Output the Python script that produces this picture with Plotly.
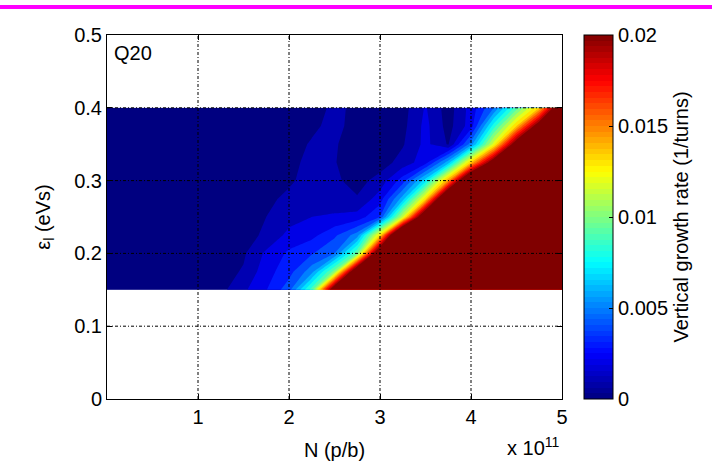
import numpy as np
import plotly.graph_objects as go

# ---------------- data ----------------
# bunch intensity N (units of 1e11 p/b)
N_BUNCH = [0.0, 0.25, 0.5, 0.75, 1.0, 1.25, 1.5, 1.75, 2.0, 2.25, 2.5,
           2.75, 3.0, 3.25, 3.5, 3.75, 4.0, 4.25, 4.5, 4.75, 5.0]
# longitudinal emittance (eVs)
EPS_L = [0.15, 0.175, 0.2, 0.225, 0.25, 0.275, 0.3, 0.325, 0.35, 0.375, 0.4]
# vertical growth rate, in units of 1e-3 /turn  (one row per emittance value)
RATE_MILLI = [
    [0.3, 0.3, 0.3, 0.35, 0.4, 0.7, 1.8, 2.95, 4.6, 9.5, 23, 35, 40, 40, 40, 40, 40, 40, 40, 40, 40],
    [0.3, 0.3, 0.3, 0.35, 0.4, 0.6, 1.1, 2.6, 3.6, 5.6, 10.5, 24, 35, 40, 40, 40, 40, 40, 40, 40, 40],
    [0.3, 0.3, 0.3, 0.35, 0.4, 0.5, 0.85, 2.2, 3.2, 3.9, 5.0, 10, 24, 35, 40, 40, 40, 40, 40, 40, 40],
    [0.3, 0.3, 0.3, 0.35, 0.4, 0.45, 0.6, 1.2, 2.3, 2.7, 3.8, 5.5, 13.5, 28, 38, 40, 40, 40, 40, 40, 40],
    [0.3, 0.3, 0.3, 0.35, 0.4, 0.45, 0.5, 1.0, 1.6, 2.0, 2.1, 2.4, 4.0, 12, 24, 35, 40, 40, 40, 40, 40],
    [0.3, 0.3, 0.3, 0.35, 0.4, 0.45, 0.5, 0.7, 1.3, 1.7, 1.6, 1.1, 2.5, 6.5, 13.5, 26, 35, 40, 40, 40, 40],
    [0.3, 0.3, 0.3, 0.35, 0.4, 0.4, 0.45, 0.6, 0.8, 1.5, 1.2, 0.6, 1.4, 3.5, 7.5, 15, 26, 35, 40, 40, 40],
    [0.3, 0.3, 0.3, 0.35, 0.35, 0.4, 0.45, 0.5, 0.7, 1.3, 1.05, 0.5, 0.5, 1.4, 2.6, 6.5, 14, 22, 35, 40, 40],
    [0.3, 0.3, 0.3, 0.35, 0.35, 0.4, 0.45, 0.5, 0.6, 1.1, 1.1, 0.5, 0.4, 0.9, 2.3, 0.9, 5.5, 12.5, 22, 35, 40],
    [0.3, 0.3, 0.3, 0.35, 0.35, 0.4, 0.45, 0.5, 0.6, 0.8, 1.3, 0.6, 0.4, 0.7, 2.3, 0.6, 2.5, 8.5, 14, 22, 35],
    [0.3, 0.3, 0.3, 0.35, 0.35, 0.4, 0.45, 0.5, 0.55, 0.6, 1.2, 0.8, 0.4, 0.6, 2.1, 0.5, 2.4, 5.0, 9.5, 14, 24],
]

X_TICKS = [1, 2, 3, 4, 5]
Y_TICKS = [0, 0.1, 0.2, 0.3, 0.4, 0.5]
X_GRID = [1, 2, 3, 4]
Y_GRID = [0.1, 0.2, 0.3, 0.4]
CB_TICKS = [0, 0.005, 0.01, 0.015, 0.02]
CB_LABELS = ["0", "0.005", "0.01", "0.015", "0.02"]
LEVEL_START, LEVEL_END, LEVEL_STEP = 0.0, 0.02, 0.001

z = np.array(RATE_MILLI) * 1e-3


# ---------------- jet colormap ----------------
def jet(p):
    def ch(c):
        return min(1.0, max(0.0, 1.5 - abs(4 * p - c)))
    return "rgb(%d,%d,%d)" % (round(255 * ch(3)), round(255 * ch(2)), round(255 * ch(1)))


nlev = 20
band_colors = [jet(k / nlev) for k in range(nlev + 1)]   # band k coloured by its lower level
# plotly samples fill band k at (k+1)/(nlev+1)
contour_cs = [[0.0, band_colors[0]]] + [[(k + 1) / (nlev + 1), band_colors[k]] for k in range(nlev + 1)]
bar_cs = []
for i in range(64):
    c = jet((i + 0.5) / 64)
    bar_cs.append([i / 64, c])
    bar_cs.append([(i + 1) / 64, c])

FONT = "Liberation Sans, Arial, Helvetica, sans-serif"
FS = 20

fig = go.Figure()
fig.add_trace(go.Contour(
    x=N_BUNCH, y=EPS_L, z=z,
    autocontour=False,
    contours=dict(start=LEVEL_START, end=LEVEL_END, size=LEVEL_STEP,
                  coloring="fill", showlines=False),
    line=dict(width=0, smoothing=0),
    colorscale=contour_cs,
    showscale=False,
    hoverinfo="skip",
))

# continuous colour bar (MATLAB style)
fig.add_trace(go.Scatter(
    x=[N_BUNCH[0]], y=[EPS_L[0]], mode="markers",
    marker=dict(size=1, opacity=0, color=[0.0], cmin=LEVEL_START, cmax=LEVEL_END,
                colorscale=bar_cs, showscale=True,
                colorbar=dict(
                    x=(584 - 107) / 455, xanchor="left", xpad=0,
                    y=0.5, yanchor="middle", len=1.0, lenmode="fraction", ypad=0,
                    thickness=29, thicknessmode="pixels",
                    outlinewidth=1, outlinecolor="black",
                    tickvals=CB_TICKS, ticktext=CB_LABELS,
                    ticks="inside", ticklen=4, tickcolor="black",
                    tickfont=dict(size=FS, color="black", family=FONT),
                    title=dict(text="Vertical growth rate (1/turns)", side="right",
                               font=dict(size=FS, color="black", family=FONT)),
                )),
    showlegend=False, hoverinfo="skip",
))

shapes = []
grid_line = dict(color="black", width=1, dash="3px,2px,1px,2px")
for xv in X_GRID:
    shapes.append(dict(type="line", xref="x", yref="y", x0=xv, x1=xv, y0=0, y1=0.5,
                       line=grid_line, layer="above"))
for yv in Y_GRID:
    shapes.append(dict(type="line", xref="x", yref="y", x0=0, x1=5, y0=yv, y1=yv,
                       line=grid_line, layer="above"))
# magenta rule across the top of the page
shapes.append(dict(type="line", xref="paper", yref="paper",
                   x0=-107 / 455, x1=(712 - 107) / 455, y0=(399 - 7) / 364, y1=(399 - 7) / 364,
                   line=dict(color="#ff00ff", width=4), layer="above"))

fig.update_layout(
    width=712, height=461,
    margin=dict(l=107, r=150, t=35, b=62),
    paper_bgcolor="white", plot_bgcolor="white",
    font=dict(family=FONT, size=FS, color="black"),
    shapes=shapes,
    xaxis=dict(range=[0, 5], tickvals=X_TICKS, ticktext=[str(t) for t in X_TICKS],
               automargin=False,
               showgrid=False, zeroline=False, showline=True, linecolor="black", linewidth=1,
               mirror="ticks", ticks="inside", ticklen=5, tickcolor="black",
               tickfont=dict(size=FS), title=dict(text="N (p/b)", font=dict(size=FS), standoff=15)),
    yaxis=dict(range=[0, 0.5], tickvals=Y_TICKS, ticktext=["0", "0.1", "0.2", "0.3", "0.4", "0.5"],
               automargin=False,
               showgrid=False, zeroline=False, showline=True, linecolor="black", linewidth=1,
               mirror="ticks", ticks="inside", ticklen=5, tickcolor="black",
               tickfont=dict(size=FS),
               title=dict(text="ε<sub>l</sub> (eVs)", font=dict(size=FS), standoff=18)),
    annotations=[
        dict(text="Q20", xref="paper", yref="paper", x=0.012, y=0.985,
             xanchor="left", yanchor="top", showarrow=False, font=dict(size=FS)),
        dict(text="x 10<sup>11</sup>", xref="paper", yref="paper", x=1.0, y=-0.13,
             xanchor="right", yanchor="middle", showarrow=False, font=dict(size=FS)),
    ],
)

fig.write_html("out.html", config={"displayModeBar": False},
               post_script="document.body.style.margin='0px';")
